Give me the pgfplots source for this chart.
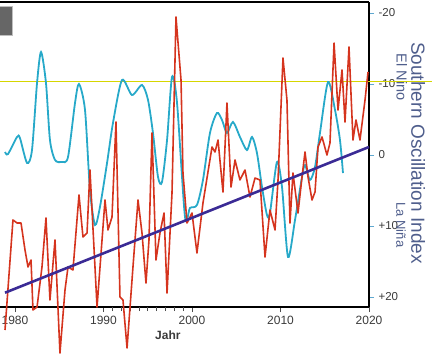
\documentclass[border=0pt]{standalone}
\usepackage{fontspec}
\setmainfont{Liberation Sans}
\usepackage{pgfplots}
\pgfplotsset{compat=1.18}
\definecolor{tempred}{HTML}{D5341E}
\definecolor{soicyan}{HTML}{27A9C9}
\definecolor{trendpurple}{HTML}{3B2B95}
\definecolor{refyellow}{HTML}{D6D600}
\definecolor{labelblue}{HTML}{4F5E8C}
\definecolor{tickblue}{HTML}{5FA8D0}
\definecolor{ticktext}{HTML}{3A3A3A}
\begin{document}
\begin{tikzpicture}
\begin{axis}[
  scale only axis, width=369pt, height=305pt,
  xmin=1978.305, xmax=2020,
  ymin=-21.55, ymax=21.41, y dir=reverse,
  axis x line=box, axis y line=right,
  axis line style={-, black, line width=1.6pt},
  every outer y axis line/.append style={-},
  every outer x axis line/.append style={-},
  clip=false,
  xtick={1980,1990,2000,2010,2020},
  xticklabels={1980,1990,2000,2010,2020},
  xtick pos=bottom,
  extra x ticks={1991,1992,1993,1994,1995,1996,1997,1998,1999},
  extra x tick labels={},
  extra x tick style={major tick length=4pt, tick style={black!70, line width=0.6pt}},
  x tick style={black!70, line width=0.8pt},
  major tick length=5pt,
  tick align=outside,
  ytick={-20,-10,0,10,20},
  yticklabels={-20,-10,0,+10,+20},
  ytick pos=right,
  y tick style={tickblue, line width=0.8pt},
  x tick label style={font=\fontsize{12}{14}\selectfont, text=ticktext, yshift=-1pt},
  y tick label style={font=\fontsize{11.5}{13}\selectfont, text=ticktext, xshift=1pt},
  xlabel={Jahr},
  xlabel style={at={(axis description cs:0.455,0)}, anchor=north, yshift=-20pt,
    font=\fontsize{12}{14}\selectfont\bfseries, text=ticktext},
]
% reference line (El Nino threshold)
\addplot[refyellow, line width=1pt] coordinates {(1978.305,-10.4) (2027.1,-10.4)};
% Southern Oscillation Index (smoothed)
\addplot[soicyan, line width=1.8pt, smooth, tension=0.45] coordinates {
(1978.87,-0.42) (1979.21,-0.14) (1980.23,-2.54) (1980.56,-2.39) (1981.36,1.13)
(1981.92,-0.70) (1982.49,-10.14) (1982.94,-14.51) (1983.50,-10.14) (1983.95,-2.11)
(1984.52,0.70) (1985.31,0.99) (1985.99,0.28) (1986.78,-7.32) (1987.23,-10.0)
(1987.91,-6.34) (1988.47,4.93) (1989.04,9.86) (1989.60,7.32) (1990.40,1.13)
(1991.07,-4.51) (1992.09,-10.56) (1993.22,-8.45) (1994.35,-9.86) (1995.03,-7.75)
(1995.59,-3.10) (1996.16,3.10) (1996.61,3.80) (1997.18,-2.11) (1997.74,-10.99)
(1998.31,-7.32) (1999.21,8.73) (1999.77,7.46) (2000.56,7.04) (2001.24,3.52)
(2002.03,-3.10) (2002.82,-5.92) (2003.39,-4.93) (2003.95,-3.10) (2004.63,-4.65)
(2005.42,-2.54) (2006.21,-0.70) (2006.78,-2.54) (2007.34,-0.28) (2007.91,4.51)
(2008.47,8.45) (2008.81,8.17) (2009.60,0.99) (2010.17,4.51) (2010.85,14.37)
(2011.64,9.15) (2012.43,3.10) (2012.77,1.41) (2013.33,3.52) (2013.90,1.69)
(2014.46,-3.10) (2015.37,-10.28) (2016.16,-6.34) (2016.72,-2.11) (2017.06,2.54)
};
% temperature anomaly (drawn in the same frame)
\addplot[tempred, line width=1.6pt, line join=round] coordinates {
(1978.87,24.65) (1979.77,9.15) (1980.23,9.58) (1980.68,9.58) (1981.13,13.38)
(1981.47,15.77) (1981.81,14.79) (1982.03,21.83) (1982.49,21.41) (1983.05,15.77)
(1983.50,8.87) (1983.95,20.42) (1984.52,11.97) (1985.08,27.89) (1985.65,19.01)
(1985.99,15.77) (1986.55,16.20) (1987.23,5.63) (1987.68,11.55) (1988.14,10.99)
(1988.47,2.11) (1989.27,21.41) (1990.17,6.34) (1990.51,10.56) (1990.96,8.73)
(1991.41,-4.65) (1991.86,20.0) (1992.20,20.42) (1992.66,27.18) (1993.33,15.77)
(1993.90,6.34) (1994.35,10.99) (1994.80,18.03) (1995.14,11.97) (1995.48,-3.10)
(1995.93,14.79) (1996.38,10.99) (1996.84,8.17) (1997.18,19.44) (1997.74,5.35)
(1998.19,-19.44) (1998.76,-10.56) (1998.98,2.54) (1999.44,9.58) (2000.00,8.17)
(2000.56,13.80) (2001.24,6.76) (2002.26,-1.13) (2002.60,-0.42) (2002.94,-2.11)
(2003.50,5.21) (2003.95,-7.32) (2004.41,4.51) (2004.86,0.70) (2005.42,3.52)
(2005.99,2.11) (2006.55,5.92) (2007.12,3.24) (2007.68,3.52) (2008.25,14.37)
(2008.81,7.75) (2009.38,10.56) (2009.72,3.52) (2010.28,-13.66) (2010.73,-7.75)
(2011.07,9.58) (2011.41,2.54) (2011.98,8.17) (2012.43,3.10) (2012.77,-0.42)
(2013.11,3.10) (2013.56,6.34) (2013.90,5.21) (2014.24,-1.13) (2014.69,-2.54)
(2015.25,0.0) (2015.59,-1.69) (2016.05,-15.77) (2016.50,-6.34) (2016.95,-11.97)
(2017.29,-4.65) (2017.74,-15.21) (2018.19,-2.11) (2018.53,-4.93) (2018.98,-2.11)
(2019.55,-7.75) (2019.89,-11.69)
};
% linear trend
\addplot[trendpurple, line width=2.6pt] coordinates {(1978.87,19.4) (2020,-1.13)};
% decorations
\fill[black!60, draw=black!25, line width=0.8pt] (axis description cs:-0.01,0.984) rectangle (axis description cs:0.0325,0.892);
\node[rotate=-90, text=labelblue, font=\fontsize{19}{21}\selectfont, anchor=center]
  at (axis description cs:1.133,0.505) {Southern Oscillation Index};
\node[rotate=-90, text=labelblue, font=\fontsize{14.5}{16}\selectfont, anchor=center]
  at (axis description cs:1.089,0.753) {El Nino};
\node[rotate=-90, text=labelblue, font=\fontsize{13}{15}\selectfont, anchor=center]
  at (axis description cs:1.087,0.269) {La Niña};
\end{axis}
\pgfresetboundingbox
\path[use as bounding box] ([yshift=-49pt]current axis.south west) rectangle ([xshift=63pt,yshift=2pt]current axis.north east);
\end{tikzpicture}
\end{document}
